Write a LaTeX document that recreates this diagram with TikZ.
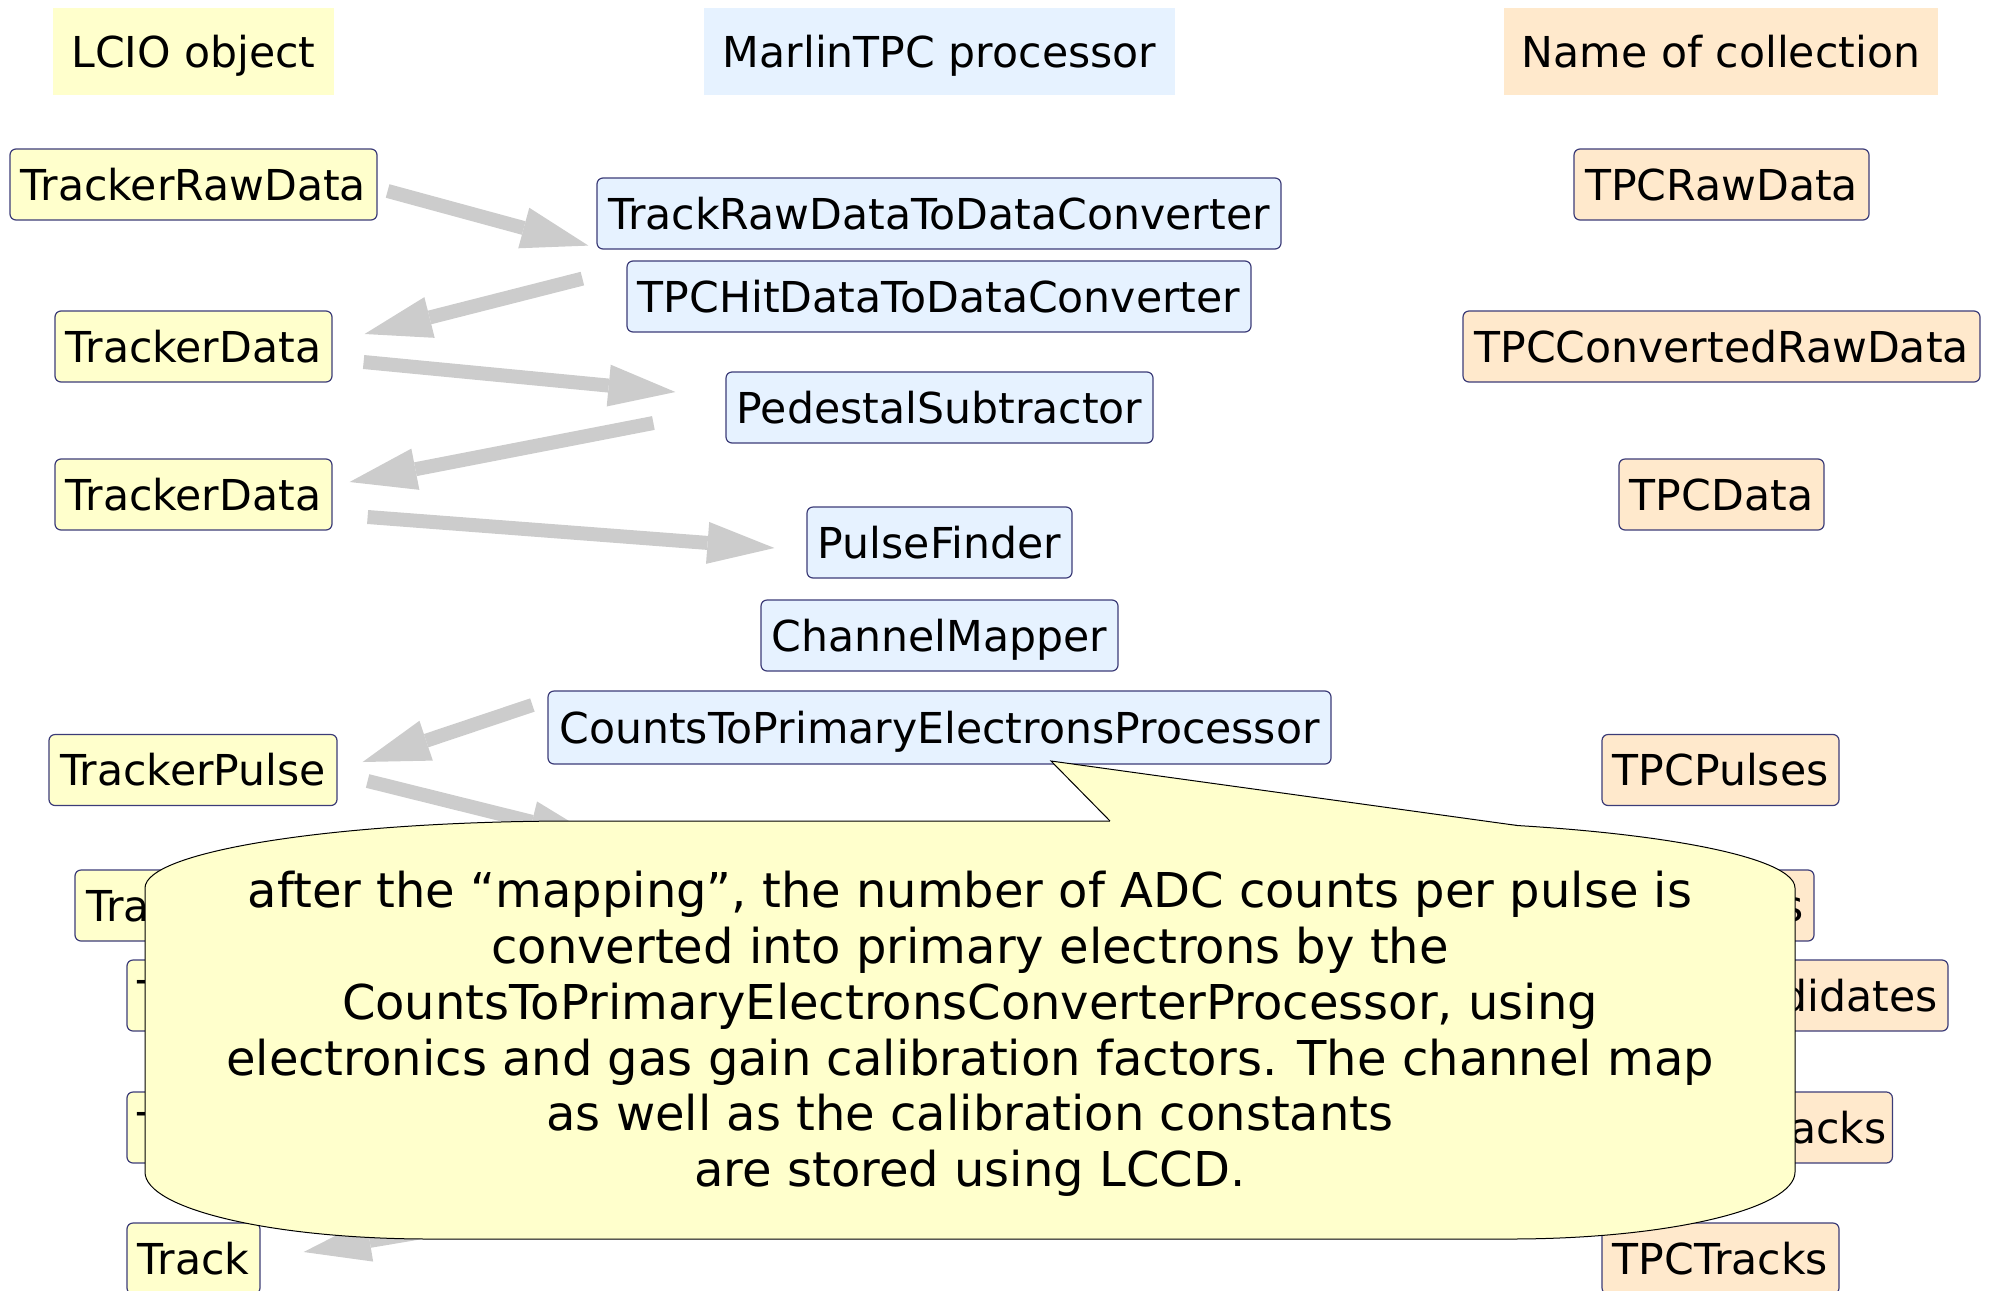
\documentclass[tikz,border=0pt]{standalone}
\usepackage{fontspec}
\setmainfont{DejaVu Sans}
\usetikzlibrary{arrows.meta}
\definecolor{lcioY}{HTML}{FFFFCC}
\definecolor{procB}{HTML}{E6F2FF}
\definecolor{collO}{HTML}{FFE9CC}
\definecolor{bord}{HTML}{3C3C78}
\definecolor{arrowgray}{HTML}{CCCCCC}
\newcommand{\nodefont}{\fontsize{21.3}{25}\selectfont}
\newcommand{\calloutfont}{\fontsize{24}{27.9}\selectfont}
\tikzset{
  box/.style={rounded corners=3pt, draw=bord, line width=0.6pt,
    minimum height=35.5pt, inner xsep=3pt, inner ysep=0pt,
    text height=15.5pt, text depth=0pt, font=\nodefont, text=black},
  lcio/.style={box, fill=lcioY},
  proc/.style={box, fill=procB},
  coll/.style={box, fill=collO},
  head/.style={minimum height=43.5pt, inner xsep=3pt, inner ysep=0pt,
    text height=15.5pt, text depth=0pt, font=\nodefont, text=black},
  flow/.style={draw=arrowgray, line width=7pt,
    -{Triangle[length=33.5pt,width=21pt,line width=0pt]}},
  callout/.style={fill=lcioY, draw=black, line width=0.5pt},
}
\begin{document}
\begin{tikzpicture}[x=0.5pt,y=-0.5pt]
\useasboundingbox (0,0) rectangle (1989,1290);

% headers
\node[head, fill=lcioY, minimum width=140.5pt] (hl) at (193.5,51.5) {LCIO object};
\node[head, fill=procB, minimum width=235.5pt] (hm) at (939.5,51.5) {MarlinTPC processor};
\node[head, fill=collO, minimum width=217pt] (hc) at (1721,51.5) {Name of collection};

% left column
\node[lcio, minimum width=183.5pt] (trd) at (193.5,184.5) {TrackerRawData};
\node[lcio, minimum width=138.5pt] (td1) at (193.5,346.5) {TrackerData};
\node[lcio, minimum width=138.5pt] (td2) at (193.5,494.5) {TrackerData};
\node[lcio, minimum width=144pt] (tp) at (193,770) {TrackerPulse};
\node[lcio, minimum width=118.5pt] (th) at (193.5,905.5) {TrackerHit};
\node[lcio, minimum width=66.5pt] (tk1) at (193.5,995.5) {Track};
\node[lcio, minimum width=66.5pt] (tk2) at (193.5,1127.5) {Track};
\node[lcio, minimum width=66.5pt] (tk3) at (193.5,1258.5) {Track};

% middle column
\node[proc, minimum width=342pt] (trac) at (939,213.5) {TrackRawDataToDataConverter};
\node[proc, minimum width=312pt] (thc) at (939,296.5) {TPCHitDataToDataConverter};
\node[proc, minimum width=213.5pt] (ped) at (939.5,407.5) {PedestalSubtractor};
\node[proc, minimum width=132.5pt] (pf) at (939.5,542.5) {PulseFinder};
\node[proc, minimum width=178.5pt] (cm) at (939.5,635.5) {ChannelMapper};
\node[proc, minimum width=391.5pt, minimum height=36.5pt] (cpe) at (939.5,727.5) {CountsToPrimaryElectronsProcessor};

% right column
\node[coll, minimum width=147.5pt] (c1) at (1721.5,184.5) {TPCRawData};
\node[coll, minimum width=258.5pt] (c2) at (1721.5,346.5) {TPCConvertedRawData};
\node[coll, minimum width=102.5pt] (c3) at (1721.5,494.5) {TPCData};
\node[coll, minimum width=118.5pt] (c4) at (1720.5,770) {TPCPulses};
\node[coll, minimum width=92.5pt] (c5) at (1721.5,905.5) {TPCHits};
\node[coll, minimum width=226.5pt] (c6) at (1721.5,995.5) {TPCTrackCandidates};
\node[coll, anchor=east] (c7) at (1893,1127.5) {TPCFittedTracks};
\node[coll, minimum width=118.5pt] (c8) at (1720.5,1258.5) {TPCTracks};

% hidden ends of connectors (under the callout)
\coordinate (hid1) at (597,838);
\coordinate (hid2) at (600,1202);

% connectors
\draw[flow] ([shift={(10,6.5)}]trd.east) -- ([shift={(-8,-4)}]trac.south west);
\draw[flow] ([shift={(-14,29)}]trac.south west) -- ([shift={(32,-12.5)}]td1.east);
\draw[flow] ([shift={(31,15.5)}]td1.east) -- ([shift={(-50,-15.5)}]ped.west);
\draw[flow] ([shift={(-72,15.5)}]ped.west) -- ([shift={(17,-12.5)}]td2.east);
\draw[flow] ([shift={(35,22.5)}]td2.east) -- ([shift={(-32,5.5)}]pf.west);
\draw[flow] ([shift={(-15,-22.5)}]cpe.west) -- ([shift={(25,-8)}]tp.east);
\draw[flow] ([shift={(30,11)}]tp.east) -- (hid1);
\draw[flow] (hid2) -- ([shift={(43,-6.5)}]tk3.east);

% callout body
\draw[callout] (575,821) -- (1360,821)
  .. controls (1600.2,821) and (1795,851) .. (1795,888)
  -- (1795,1172)
  .. controls (1795,1209) and (1667.4,1239) .. (1510,1239)
  -- (430,1239)
  .. controls (272.6,1239) and (145,1209) .. (145,1172)
  -- (145,888)
  .. controls (145,851) and (337.4,821) .. (575,821) -- cycle;
% callout pointer
\fill[lcioY] (1110,821) -- (1051,761) -- (1518,825.6) -- (1518,831) -- (1110,827) -- cycle;
\draw[black, line width=0.5pt, line join=miter] (1110,821) -- (1051,761) -- (1518,825.6);
\node[align=center, font=\calloutfont, text=black, inner sep=0pt] (ctext) at (970,1034)
  {after the “mapping”, the number of ADC counts per pulse is\\
   converted into primary electrons by the\\
   CountsToPrimaryElectronsConverterProcessor, using\\
   electronics and gas gain calibration factors. The channel map\\
   as well as the calibration constants\\
   are stored using LCCD.};
\end{tikzpicture}
\end{document}
